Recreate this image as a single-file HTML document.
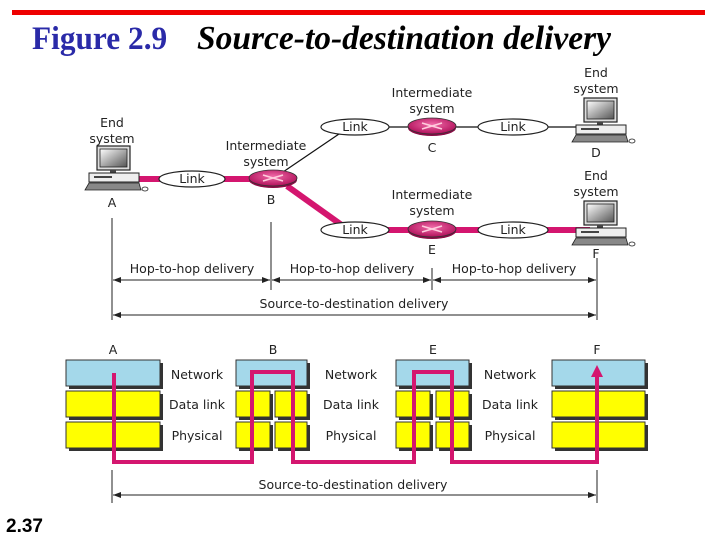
<!DOCTYPE html>
<html><head><meta charset="utf-8"><style>
html,body{margin:0;padding:0;background:#fff;width:720px;height:540px;overflow:hidden}
svg{display:block}
.t{font-family:"DejaVu Sans","Liberation Sans",sans-serif;font-size:12.5px;fill:#222}
</style></head><body>
<svg width="720" height="540" viewBox="0 0 720 540" xmlns="http://www.w3.org/2000/svg">
<defs>
<linearGradient id="scr" x1="0" y1="0" x2="1" y2="1"><stop offset="0" stop-color="#fff"/><stop offset="1" stop-color="#555"/></linearGradient>
<radialGradient id="rt" cx="0.5" cy="0.4" r="0.6"><stop offset="0" stop-color="#f06aa8"/><stop offset="1" stop-color="#b0105a"/></radialGradient>
<marker id="ah" markerWidth="8" markerHeight="6" refX="8" refY="3" orient="auto-start-reverse" markerUnits="userSpaceOnUse"><path d="M0,0 L8,3 L0,6 z" fill="#222"/></marker>
<g id="pc">
<rect x="12" y="-2" width="33" height="24" fill="#ddd" stroke="#222" stroke-width="1.2"/>
<rect x="15" y="1" width="27" height="18" fill="url(#scr)" stroke="#222" stroke-width="0.8"/>
<rect x="25" y="22" width="6" height="3" fill="#444"/>
<rect x="4" y="25" width="50" height="9" fill="#eee" stroke="#222" stroke-width="1"/>
<rect x="9" y="28" width="18" height="2" fill="#444"/>
<path d="M0,42 L4,35 L54,35 L56,42 z" fill="#888" stroke="#222" stroke-width="0.8"/>
<ellipse cx="60" cy="41" rx="3" ry="2" fill="#fff" stroke="#222" stroke-width="0.8"/>
</g>
<g id="router">
<ellipse cx="0" cy="2" rx="24" ry="8" fill="#8a0b45"/>
<ellipse cx="0" cy="0" rx="24" ry="8" fill="url(#rt)" stroke="#333" stroke-width="0.8"/>
<path d="M-10,-3 L10,3 M-10,3 L10,-3" stroke="#fcd" stroke-width="1.6"/>
</g>
</defs>

<rect x="12" y="10" width="693" height="5" fill="#e00"/>
<text x="32" y="49" font-family="Liberation Serif,serif" font-size="33" font-weight="bold" fill="#2a2aa8" transform="translate(32,0) scale(0.95,1) translate(-32,0)">Figure 2.9</text>
<text x="197" y="49" font-family="Liberation Serif,serif" font-size="33.5" font-style="italic" font-weight="bold" fill="#000">Source-to-destination delivery</text>

<line x1="135" y1="179" x2="260" y2="179" stroke="#d4166f" stroke-width="6"/>
<line x1="287" y1="186" x2="343" y2="226" stroke="#d4166f" stroke-width="6"/>
<line x1="343" y1="230" x2="590" y2="230" stroke="#d4166f" stroke-width="6"/>
<line x1="283" y1="172" x2="339" y2="134" stroke="#111" stroke-width="1.2"/>
<line x1="360" y1="127" x2="580" y2="127" stroke="#111" stroke-width="1.2"/>

<use href="#pc" x="85" y="148"/>
<use href="#pc" x="572" y="100"/>
<use href="#pc" x="572" y="203"/>

<g fill="#fff" stroke="#222" stroke-width="1.2">
<ellipse cx="192" cy="179" rx="33" ry="8"/>
<ellipse cx="355" cy="127" rx="34" ry="8"/>
<ellipse cx="513" cy="127" rx="35" ry="8"/>
<ellipse cx="355" cy="230" rx="34" ry="8"/>
<ellipse cx="513" cy="230" rx="35" ry="8"/>
</g>
<g class="t" text-anchor="middle">
<text x="192" y="183">Link</text><text x="355" y="131">Link</text><text x="513" y="131">Link</text>
<text x="355" y="234">Link</text><text x="513" y="234">Link</text>
</g>
<use href="#router" x="273" y="178"/>
<use href="#router" x="432" y="126"/>
<use href="#router" x="432" y="229"/>

<g class="t" text-anchor="middle">
<text x="112" y="127">End</text><text x="112" y="143">system</text>
<text x="266" y="150">Intermediate</text><text x="266" y="166">system</text>
<text x="432" y="97">Intermediate</text><text x="432" y="113">system</text>
<text x="596" y="77">End</text><text x="596" y="93">system</text>
<text x="432" y="199">Intermediate</text><text x="432" y="215">system</text>
<text x="596" y="180">End</text><text x="596" y="196">system</text>
<text x="112" y="207">A</text><text x="271" y="204">B</text><text x="432" y="152">C</text>
<text x="596" y="157">D</text><text x="432" y="254">E</text><text x="596" y="258">F</text>
<text x="192" y="273">Hop-to-hop delivery</text>
<text x="352" y="273">Hop-to-hop delivery</text>
<text x="514" y="273">Hop-to-hop delivery</text>
<text x="354" y="308">Source-to-destination delivery</text>
</g>
<g stroke="#222" stroke-width="1">
<line x1="112" y1="218" x2="112" y2="320"/>
<line x1="271" y1="222" x2="271" y2="290"/>
<line x1="432" y1="268" x2="432" y2="290"/>
<line x1="597" y1="258" x2="597" y2="320"/>
<line x1="113" y1="280" x2="270" y2="280" marker-start="url(#ah)" marker-end="url(#ah)"/>
<line x1="272" y1="280" x2="431" y2="280" marker-start="url(#ah)" marker-end="url(#ah)"/>
<line x1="433" y1="280" x2="596" y2="280" marker-start="url(#ah)" marker-end="url(#ah)"/>
<line x1="113" y1="315" x2="596" y2="315" marker-start="url(#ah)" marker-end="url(#ah)"/>
</g>

<g stroke="#333" stroke-width="1">
<g fill="#333" stroke="none">
<rect x="69" y="363" width="94" height="26"/><rect x="69" y="394" width="94" height="26"/><rect x="69" y="425" width="94" height="26"/>
<rect x="239" y="363" width="71" height="26"/><rect x="239" y="394" width="34" height="26"/><rect x="278" y="394" width="32" height="26"/><rect x="239" y="425" width="34" height="26"/><rect x="278" y="425" width="32" height="26"/>
<rect x="399" y="363" width="73" height="26"/><rect x="399" y="394" width="34" height="26"/><rect x="439" y="394" width="33" height="26"/><rect x="399" y="425" width="34" height="26"/><rect x="439" y="425" width="33" height="26"/>
<rect x="555" y="363" width="93" height="26"/><rect x="555" y="394" width="93" height="26"/><rect x="555" y="425" width="93" height="26"/>
</g>
<rect x="66" y="360" width="94" height="26" fill="#a4d8ea"/><rect x="66" y="391" width="94" height="26" fill="#ffff00"/><rect x="66" y="422" width="94" height="26" fill="#ffff00"/>
<rect x="236" y="360" width="71" height="26" fill="#a4d8ea"/><rect x="236" y="391" width="34" height="26" fill="#ffff00"/><rect x="275" y="391" width="32" height="26" fill="#ffff00"/><rect x="236" y="422" width="34" height="26" fill="#ffff00"/><rect x="275" y="422" width="32" height="26" fill="#ffff00"/>
<rect x="396" y="360" width="73" height="26" fill="#a4d8ea"/><rect x="396" y="391" width="34" height="26" fill="#ffff00"/><rect x="436" y="391" width="33" height="26" fill="#ffff00"/><rect x="396" y="422" width="34" height="26" fill="#ffff00"/><rect x="436" y="422" width="33" height="26" fill="#ffff00"/>
<rect x="552" y="360" width="93" height="26" fill="#a4d8ea"/><rect x="552" y="391" width="93" height="26" fill="#ffff00"/><rect x="552" y="422" width="93" height="26" fill="#ffff00"/>
</g>
<path d="M114,373 L114,462 L252,462 L252,372 L293,372 L293,462 L414,462 L414,372 L452,372 L452,462 L597,462 L597,375" fill="none" stroke="#d4166f" stroke-width="4"/>
<path d="M591,377 L597,365 L603,377 z" fill="#d4166f"/>
<g class="t" text-anchor="middle">
<text x="113" y="354">A</text><text x="273" y="354">B</text><text x="433" y="354">E</text><text x="597" y="354">F</text>
<text x="197" y="379">Network</text><text x="351" y="379">Network</text><text x="510" y="379">Network</text>
<text x="197" y="409">Data link</text><text x="351" y="409">Data link</text><text x="510" y="409">Data link</text>
<text x="197" y="440">Physical</text><text x="351" y="440">Physical</text><text x="510" y="440">Physical</text>
<text x="353" y="489">Source-to-destination delivery</text>
</g>
<g stroke="#222" stroke-width="1">
<line x1="112" y1="470" x2="112" y2="503"/>
<line x1="597" y1="470" x2="597" y2="503"/>
<line x1="113" y1="495" x2="596" y2="495" marker-start="url(#ah)" marker-end="url(#ah)"/>
</g>
<text x="6" y="532" font-family="Liberation Sans,sans-serif" font-size="19" font-weight="bold" fill="#000">2.37</text>
</svg>
</body></html>
